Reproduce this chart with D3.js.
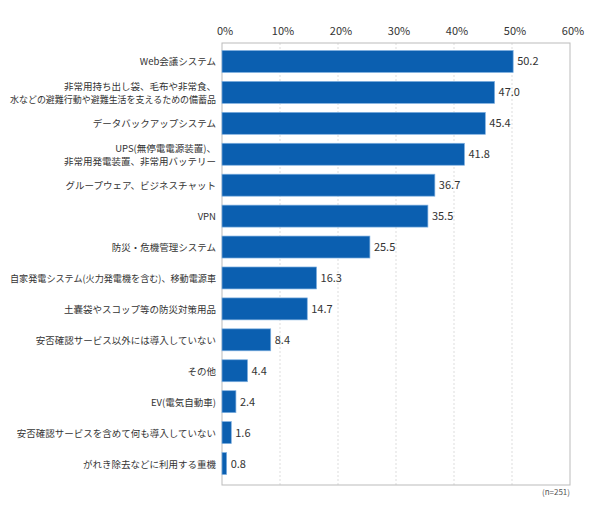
<!DOCTYPE html><html><head><meta charset="utf-8"><script src="https://cdn.jsdelivr.net/npm/d3@7"></script>
<style>body{margin:0;background:#fff;font-family:"Noto Sans CJK JP",sans-serif}</style></head><body><svg id="c" width="590" height="524"></svg><script>
const categories=[["Web会議システム"],["非常用持ち出し袋、毛布や非常食、","水などの避難行動や避難生活を支えるための備蓄品"],["データバックアップシステム"],["UPS(無停電電源装置)、","非常用発電装置、非常用バッテリー"],["グループウェア、ビジネスチャット"],["VPN"],["防災・危機管理システム"],["自家発電システム(火力発電機を含む)、移動電源車"],["土嚢袋やスコップ等の防災対策用品"],["安否確認サービス以外には導入していない"],["その他"],["EV(電気自動車)"],["安否確認サービスを含めて何も導入していない"],["がれき除去などに利用する重機"]];
const values=[50.2,47.0,45.4,41.8,36.7,35.5,25.5,16.3,14.7,8.4,4.4,2.4,1.6,0.8];
const ticks=[0,10,20,30,40,50,60];
const svg=d3.select("#c");
const x=d3.scaleLinear().domain([0,60]).range([222,570]);
const y=d3.scaleBand().domain(d3.range(values.length)).range([46,479]).paddingInner(0.29).paddingOuter(0.145);
svg.selectAll(".g").data(ticks.slice(1,-1)).join("line").attr("x1",d=>x(d)).attr("x2",d=>x(d)).attr("y1",43).attr("y2",485).attr("stroke","#ddd").attr("stroke-dasharray","2,2");
svg.append("rect").attr("x",222).attr("y",43).attr("width",348).attr("height",442).attr("fill","none").attr("stroke","#bbb");
svg.selectAll(".t").data(ticks).join("text").attr("x",d=>x(d)+3).attr("y",35).attr("text-anchor","middle").attr("font-size",11).attr("fill","#333").text(d=>d+"%");
svg.selectAll(".b").data(values).join("rect").attr("x",x(0)).attr("y",(d,i)=>y(i)).attr("width",d=>x(d)-x(0)).attr("height",y.bandwidth()).attr("fill","#0b5fb0").attr("stroke","#7fb0e0").attr("stroke-width",0.7);
svg.selectAll(".v").data(values).join("text").attr("x",d=>x(d)+4).attr("y",(d,i)=>y(i)+y.bandwidth()/2+4).attr("font-size",11).attr("fill","#333").text(d=>d.toFixed(1));
categories.forEach((c,i)=>{const cy=y(i)+y.bandwidth()/2;c.forEach((t,j)=>{const el=svg.append("text").attr("x",216).attr("y",cy+4+(j-(c.length-1)/2)*13).attr("text-anchor","end").attr("font-size",9.5).attr("fill","#333").text(t);const w=el.node().getComputedTextLength();if(w>206)el.attr("textLength",206).attr("lengthAdjust","spacingAndGlyphs");});});
svg.append("text").attr("x",570).attr("y",495).attr("text-anchor","end").attr("font-size",8).attr("fill","#555").text("(n=251)");
</script></body></html>
